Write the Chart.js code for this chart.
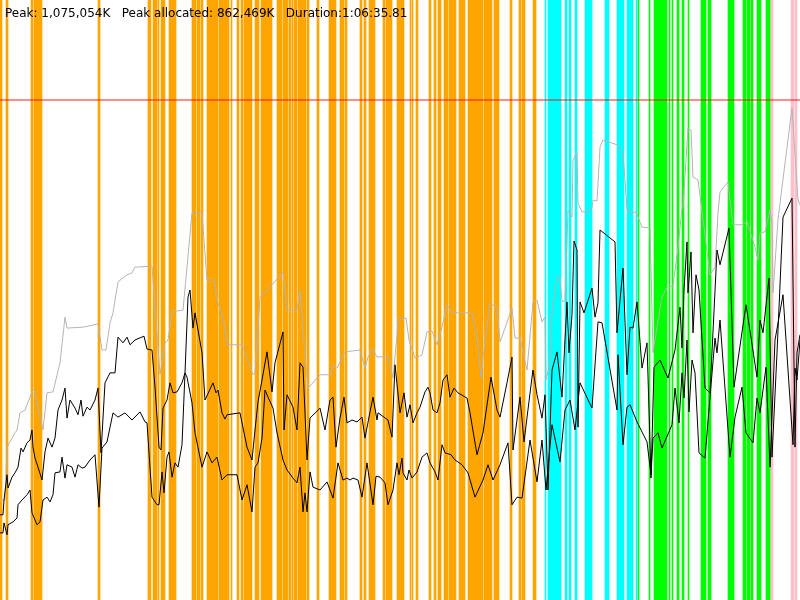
<!DOCTYPE html>
<html>
<head>
<meta charset="utf-8">
<script src="https://cdn.jsdelivr.net/npm/chart.js@4/dist/chart.umd.min.js"></script>
<style>
  html, body { margin: 0; padding: 0; background: #fff; }
  #memChart { display: block; }
</style>
</head>
<body>
<canvas id="memChart" width="800" height="600"></canvas>
<script>
// time in seconds, memory in MB
const durationSeconds = 4000;
const axisTopMB = 1260;
const peakMB = 1050;
const summaryText = 'Peak: 1,075,054K   Peak allocated: 862,469K   Duration:1:06:35.81';

const heapSamples = [[0,210],[25,210],[35,321],[75,351],[85,357],[100,393],[125,399],[160,437],[170,443],[215,357],[235,435],[265,437],[300,498],[325,594],[335,571],[415,573],[440,575],[490,580],[510,525],[530,525],[550,582],[565,603],[590,668],[635,683],[660,687],[675,699],[760,701],[800,473],[825,540],[840,546],[860,605],[915,609],[935,699],[960,813],[1010,813],[1035,672],[1070,672],[1085,630],[1115,594],[1135,536],[1210,536],[1265,473],[1275,477],[1300,636],[1350,657],[1415,689],[1435,609],[1485,609],[1500,651],[1515,567],[1540,445],[1600,473],[1650,473],[1665,491],[1685,487],[1725,521],[1800,525],[1825,487],[1840,510],[1865,527],[1885,510],[1940,512],[1965,466],[1985,557],[1990,588],[2030,592],[2045,546],[2075,508],[2110,515],[2135,563],[2160,565],[2185,536],[2210,573],[2235,620],[2260,603],[2360,603],[2385,552],[2405,466],[2415,508],[2450,624],[2485,613],[2500,542],[2525,571],[2560,613],[2575,550],[2600,550],[2635,483],[2665,626],[2685,630],[2710,584],[2725,594],[2730,462],[2750,498],[2760,603],[2785,678],[2800,676],[2810,626],[2825,630],[2840,819],[2860,804],[2865,924],[2885,939],[2890,834],[2910,815],[2940,815],[2960,823],[2965,840],[2985,838],[3000,951],[3015,966],[3085,956],[3115,939],[3135,819],[3165,813],[3180,815],[3210,783],[3250,781],[3265,519],[3285,573],[3310,636],[3335,657],[3365,659],[3390,741],[3410,823],[3415,823],[3440,991],[3455,987],[3465,888],[3490,882],[3550,683],[3575,699],[3590,813],[3600,857],[3640,878],[3665,788],[3710,788],[3735,794],[3775,741],[3790,714],[3800,771],[3825,773],[3850,819],[3860,792],[3865,645],[3890,798],[3910,867],[3960,1033],[3990,840],[4000,830]];

const allocatedSamples = [[0,179],[15,179],[20,210],[35,263],[40,235],[60,258],[75,267],[90,279],[105,319],[115,311],[135,330],[150,336],[160,357],[165,321],[175,298],[190,279],[210,252],[225,311],[240,340],[260,321],[275,340],[290,399],[310,420],[325,445],[335,382],[350,420],[375,403],[390,389],[405,420],[415,386],[435,405],[450,399],[475,420],[490,445],[505,309],[525,456],[550,477],[575,477],[590,552],[615,540],[635,552],[650,536],[675,546],[720,554],[735,527],[760,525],[775,447],[795,321],[805,315],[815,403],[835,420],[850,456],[865,435],[885,437],[910,456],[925,477],[940,636],[950,651],[965,571],[975,603],[1010,519],[1025,420],[1065,456],[1080,435],[1090,441],[1110,393],[1125,380],[1135,389],[1200,393],[1235,321],[1260,294],[1275,357],[1290,416],[1310,462],[1335,521],[1360,437],[1375,498],[1415,563],[1420,357],[1435,431],[1465,405],[1485,357],[1500,498],[1515,489],[1525,393],[1535,294],[1550,382],[1600,403],[1625,357],[1650,420],[1665,426],[1680,321],[1700,382],[1720,426],[1735,372],[1760,378],[1785,374],[1810,384],[1825,340],[1850,395],[1865,426],[1885,378],[1890,393],[1940,378],[1960,342],[1975,494],[2000,393],[2020,435],[2035,384],[2050,410],[2065,372],[2085,393],[2100,405],[2125,437],[2140,447],[2150,435],[2165,399],[2185,393],[2200,414],[2215,462],[2235,473],[2250,426],[2270,445],[2290,435],[2335,424],[2350,393],[2385,305],[2415,351],[2455,468],[2485,399],[2500,384],[2535,456],[2560,510],[2565,315],[2600,426],[2620,332],[2660,468],[2665,483],[2685,431],[2710,382],[2725,431],[2740,231],[2760,483],[2785,521],[2810,426],[2835,626],[2845,519],[2860,599],[2870,754],[2885,735],[2890,363],[2900,626],[2920,603],[2960,655],[2975,594],[2990,624],[3000,777],[3075,752],[3085,561],[3115,697],[3135,473],[3150,573],[3165,571],[3185,626],[3210,487],[3235,540],[3255,256],[3270,489],[3300,504],[3340,466],[3375,525],[3400,615],[3410,529],[3420,651],[3435,752],[3440,645],[3455,731],[3465,561],[3480,683],[3495,651],[3525,445],[3550,435],[3585,735],[3600,704],[3645,781],[3670,447],[3730,620],[3785,468],[3800,588],[3815,561],[3845,676],[3860,300],[3885,519],[3915,804],[3960,844],[3975,321],[3985,519],[4000,557]];

const retainedSamples = [[0,141],[15,141],[20,162],[35,137],[40,158],[65,164],[85,172],[90,200],[110,210],[135,221],[150,231],[160,183],[185,158],[200,164],[215,210],[235,216],[250,206],[265,221],[275,267],[300,269],[310,300],[325,256],[335,284],[360,279],[375,258],[390,284],[410,277],[425,279],[450,294],[475,305],[495,195],[510,319],[535,332],[565,393],[590,384],[625,393],[660,378],[700,395],[725,374],[735,372],[760,216],[785,200],[795,200],[810,269],[820,225],[835,300],[845,311],[860,258],[875,288],[890,279],[910,326],[925,477],[935,468],[960,414],[975,351],[1010,279],[1035,311],[1060,288],[1085,300],[1110,252],[1135,263],[1185,263],[1210,210],[1235,242],[1260,185],[1275,279],[1290,288],[1310,340],[1325,441],[1340,426],[1365,403],[1385,351],[1415,294],[1435,273],[1465,256],[1485,246],[1500,279],[1515,185],[1525,225],[1535,185],[1550,269],[1565,237],[1600,231],[1635,248],[1665,214],[1690,288],[1715,252],[1735,256],[1750,252],[1765,256],[1790,252],[1810,216],[1835,288],[1865,200],[1880,260],[1900,258],[1925,246],[1940,200],[1965,231],[1985,288],[1995,263],[2010,298],[2015,267],[2035,252],[2045,273],[2060,256],[2085,269],[2110,300],[2135,309],[2150,288],[2175,269],[2190,252],[2210,326],[2225,309],[2255,305],[2275,294],[2310,284],[2340,267],[2375,216],[2415,252],[2440,284],[2465,252],[2500,284],[2540,330],[2560,200],[2585,216],[2610,214],[2650,336],[2685,248],[2710,336],[2730,231],[2760,368],[2800,290],[2825,399],[2850,420],[2875,357],[2900,456],[2960,403],[2990,584],[3010,582],[3085,399],[3090,515],[3115,326],[3135,405],[3150,410],[3185,374],[3235,332],[3255,263],[3265,340],[3290,351],[3310,319],[3360,368],[3375,445],[3395,372],[3410,477],[3420,424],[3435,546],[3445,395],[3460,504],[3475,477],[3495,309],[3525,298],[3550,426],[3575,550],[3585,519],[3600,588],[3650,300],[3675,384],[3710,447],[3730,351],[3765,330],[3785,424],[3800,393],[3830,489],[3850,279],[3875,546],[3915,641],[3965,326],[3975,487],[3985,462],[4000,546]];

// [start, end] seconds of each phase
const orangeBands = [[0,10],[30,40],[155,165],[170,210],[490,500],[740,755],[765,785],[790,795],[805,825],[845,880],[960,980],[985,1000],[1005,1015],[1035,1090],[1095,1145],[1155,1160],[1185,1195],[1205,1215],[1220,1260],[1275,1295],[1305,1360],[1385,1410],[1415,1440],[1445,1455],[1460,1465],[1470,1485],[1490,1530],[1535,1545],[1585,1595],[1645,1680],[1700,1720],[1725,1735],[1800,1810],[1820,1830],[1845,1875],[1915,1925],[1930,1960],[1985,2020],[2050,2055],[2060,2065],[2080,2090],[2145,2155],[2170,2180],[2190,2205],[2220,2240],[2245,2280],[2295,2325],[2340,2415],[2420,2460],[2470,2495],[2550,2560],[2595,2605],[2610,2625],[2665,2680]];
const cyanBands = [[2725,2730],[2740,2805],[2825,2835],[2845,2855],[2875,2885],[2925,2960],[3025,3045],[3085,3120],[3135,3165],[3180,3185]];
const greenBands = [[3190,3195],[3245,3250],[3270,3335],[3345,3350],[3360,3365],[3385,3395],[3410,3420],[3440,3445],[3505,3530],[3540,3555],[3640,3670],[3715,3730],[3735,3750],[3755,3765],[3785,3805],[3830,3850]];
const pinkBands = [[3850,3865],[3955,3970],[3975,3985]];

const toPoints = (samples) => samples.map(([x, y]) => ({ x, y }));
const toBands = (bands) => bands.map(([start, end]) => ({ x: [start, end], y: 'run' }));

const bandDataset = (label, bands, color) => ({
  type: 'bar',
  label,
  data: toBands(bands),
  indexAxis: 'y',
  xAxisID: 'x',
  yAxisID: 'lane',
  backgroundColor: color,
  borderWidth: 0,
  grouped: false,
  barPercentage: 1,
  categoryPercentage: 1,
  order: 10,
});

const lineDataset = (label, samples, color, width, order) => ({
  type: 'line',
  label,
  data: toPoints(samples),
  xAxisID: 'x',
  yAxisID: 'y',
  borderColor: color,
  borderWidth: width,
  pointRadius: 0,
  tension: 0,
  fill: false,
  order,
});

const summary = {
  id: 'summary',
  afterDraw(chart) {
    const { ctx } = chart;
    ctx.save();
    ctx.font = '12px "DejaVu Sans", sans-serif';
    ctx.fillStyle = '#000';
    ctx.textBaseline = 'alphabetic';
    ctx.fillText(summaryText, 5, 17);
    ctx.restore();
  },
};

new Chart(document.getElementById('memChart'), {
  type: 'line',
  data: {
    datasets: [
      lineDataset('Peak', [[0, peakMB], [durationSeconds, peakMB]], 'rgba(255, 0, 0, 0.6)', 1.5, 0),
      lineDataset('Heap', heapSamples, '#b4b4b4', 1, 2),
      lineDataset('Allocated', allocatedSamples, '#000', 1, 1),
      lineDataset('Retained', retainedSamples, '#000', 1, 1),
      bandDataset('Phase A', orangeBands, '#ffa500'),
      bandDataset('Phase B', cyanBands, '#00ffff'),
      bandDataset('Phase C', greenBands, '#00ff00'),
      bandDataset('Phase D', pinkBands, '#ffc0cb'),
    ],
  },
  options: {
    responsive: false,
    animation: false,
    layout: { padding: 0 },
    plugins: {
      legend: { display: false },
      tooltip: { enabled: false },
    },
    scales: {
      x: { type: 'linear', min: 0, max: durationSeconds, display: false },
      y: { type: 'linear', min: 0, max: axisTopMB, display: false },
      lane: { type: 'category', axis: 'y', labels: ['run'], offset: true, display: false },
    },
  },
  plugins: [summary],
});
</script>
</body>
</html>
